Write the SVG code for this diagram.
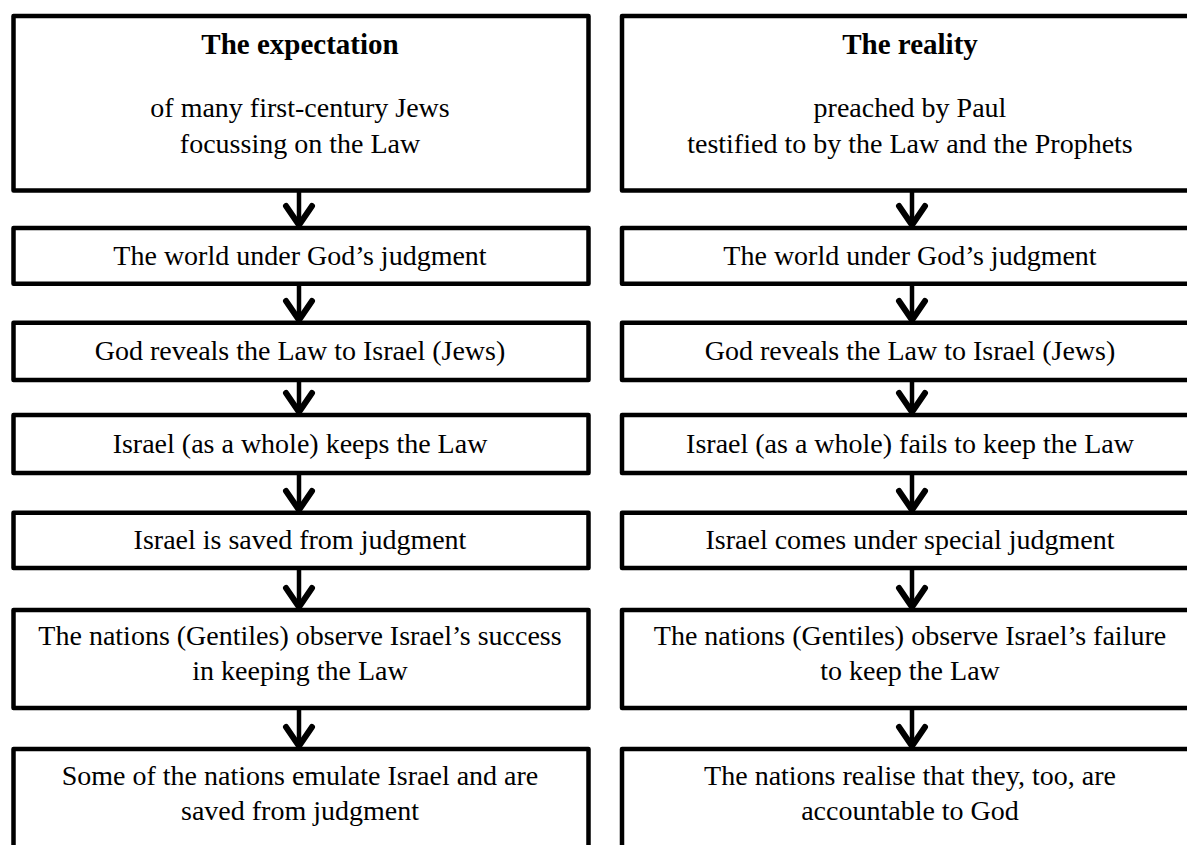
<svg xmlns="http://www.w3.org/2000/svg" width="1187" height="845" viewBox="0 0 1187 845">
<style>
.box{fill:#fff;stroke:#000;stroke-width:4.5;stroke-linejoin:round}
.t{font-family:"Liberation Serif","Times New Roman",serif;font-size:28px;fill:#000;text-anchor:middle}
.b{font-weight:bold;font-size:29px}
.shaft{stroke:#000;stroke-width:4.5;fill:none}
</style>
<defs>
<marker id="chev" markerUnits="userSpaceOnUse" markerWidth="40" markerHeight="40" refX="0" refY="0" orient="auto" viewBox="-30 -20 40 40" overflow="visible">
<path d="M-21,-13 L-2,0 L-21,13" fill="none" stroke="#000" stroke-width="6" stroke-linecap="round" stroke-linejoin="round"/>
</marker>
</defs>
<rect width="1187" height="845" fill="#fff"/>
<g id="connectors">
<line class="shaft" x1="299" y1="192" x2="299" y2="227" marker-end="url(#chev)"/>
<line class="shaft" x1="299" y1="285" x2="299" y2="322" marker-end="url(#chev)"/>
<line class="shaft" x1="299" y1="381" x2="299" y2="414" marker-end="url(#chev)"/>
<line class="shaft" x1="299" y1="474" x2="299" y2="512" marker-end="url(#chev)"/>
<line class="shaft" x1="299" y1="569" x2="299" y2="609" marker-end="url(#chev)"/>
<line class="shaft" x1="299" y1="709" x2="299" y2="748" marker-end="url(#chev)"/>
<line class="shaft" x1="912" y1="192" x2="912" y2="227" marker-end="url(#chev)"/>
<line class="shaft" x1="912" y1="285" x2="912" y2="322" marker-end="url(#chev)"/>
<line class="shaft" x1="912" y1="381" x2="912" y2="414" marker-end="url(#chev)"/>
<line class="shaft" x1="912" y1="474" x2="912" y2="512" marker-end="url(#chev)"/>
<line class="shaft" x1="912" y1="569" x2="912" y2="609" marker-end="url(#chev)"/>
<line class="shaft" x1="912" y1="709" x2="912" y2="748" marker-end="url(#chev)"/>
</g>
<g id="left1"><rect class="box" x="13.5" y="16" width="575" height="174.5"/>
<text class="t b" x="300" y="54">The expectation</text>
<text class="t" x="300" y="117">of many first-century Jews</text>
<text class="t" x="300" y="152.5">focussing on the Law</text></g>
<g id="left2"><rect class="box" x="13.5" y="228" width="575" height="55.7"/>
<text class="t" x="300" y="265">The world under God’s judgment</text></g>
<g id="left3"><rect class="box" x="13.5" y="322.7" width="575" height="57.3"/>
<text class="t" x="300" y="360">God reveals the Law to Israel (Jews)</text></g>
<g id="left4"><rect class="box" x="13.5" y="415" width="575" height="58"/>
<text class="t" x="300" y="453">Israel (as a whole) keeps the Law</text></g>
<g id="left5"><rect class="box" x="13.5" y="512.7" width="575" height="55.3"/>
<text class="t" x="300" y="549">Israel is saved from judgment</text></g>
<g id="left6"><rect class="box" x="13.5" y="610" width="575" height="98"/>
<text class="t" x="300" y="645">The nations (Gentiles) observe Israel’s success</text>
<text class="t" x="300" y="680">in keeping the Law</text></g>
<g id="left7"><rect class="box" x="13.5" y="749" width="575" height="150"/>
<text class="t" x="300" y="785">Some of the nations emulate Israel and are</text>
<text class="t" x="300" y="820">saved from judgment</text></g>
<g id="right1"><rect class="box" x="622" y="16" width="576" height="174.5"/>
<text class="t b" x="910" y="54">The reality</text>
<text class="t" x="910" y="117">preached by Paul</text>
<text class="t" x="910" y="152.5">testified to by the Law and the Prophets</text></g>
<g id="right2"><rect class="box" x="622" y="228" width="576" height="55.7"/>
<text class="t" x="910" y="265">The world under God’s judgment</text></g>
<g id="right3"><rect class="box" x="622" y="322.7" width="576" height="57.3"/>
<text class="t" x="910" y="360">God reveals the Law to Israel (Jews)</text></g>
<g id="right4"><rect class="box" x="622" y="415" width="576" height="58"/>
<text class="t" x="910" y="453">Israel (as a whole) fails to keep the Law</text></g>
<g id="right5"><rect class="box" x="622" y="512.7" width="576" height="55.3"/>
<text class="t" x="910" y="549">Israel comes under special judgment</text></g>
<g id="right6"><rect class="box" x="622" y="610" width="576" height="98"/>
<text class="t" x="910" y="645">The nations (Gentiles) observe Israel’s failure</text>
<text class="t" x="910" y="680">to keep the Law</text></g>
<g id="right7"><rect class="box" x="622" y="749" width="576" height="150"/>
<text class="t" x="910" y="785">The nations realise that they, too, are</text>
<text class="t" x="910" y="820">accountable to God</text></g>
</svg>
